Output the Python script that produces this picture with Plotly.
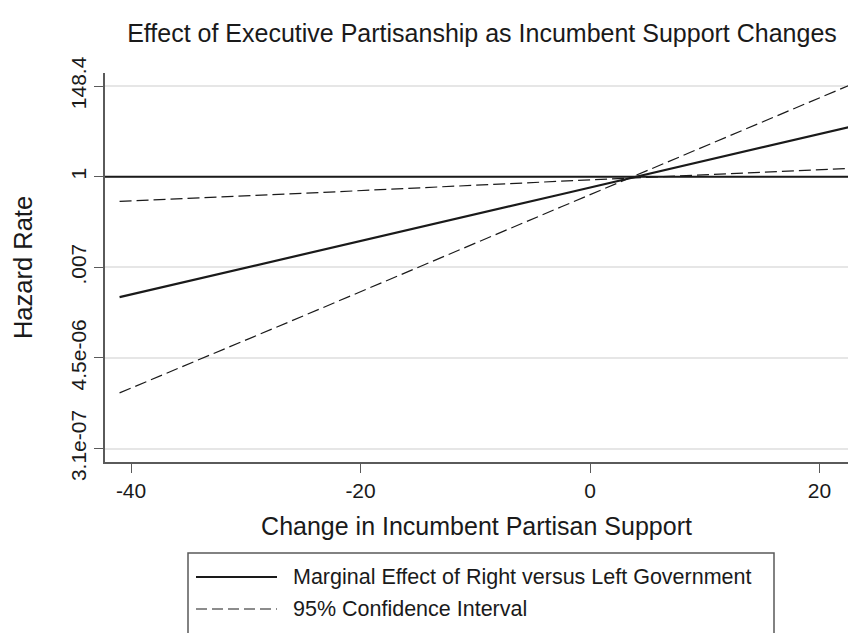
import math
import plotly.graph_objects as go

# Change in incumbent partisan support (percentage points)
support_change = [-41, -25, -2.5, 22.5]

# Hazard ratio of right vs. left government, with 95% bounds
marginal_effect = [0.0013, 0.0136, 0.38, 15.3]
ci_bound_flat = [0.257, 0.40, 0.78, 1.58]
ci_bound_steep = [6.6e-06, 4.6e-04, 0.19, 151]

# x-axis ticks
x_tick_vals = [-40, -20, 0, 20]
x_tick_text = ["-40", "-20", "0", "20"]

# y-axis ticks sit at exp(-15), exp(-10), exp(-5), exp(0), exp(5)
y_tick_logs = [-15, -10, -5, 0, 5]
y_tick_text = ["3.1e-07", "4.5e-06", ".007", "1", "148.4"]

legend_labels = ["Marginal Effect of Right versus Left Government",
                 "95% Confidence Interval"]

FONT = "Liberation Sans, Arial, sans-serif"
INK = "#1a1a1a"
AXIS = "#5a5a5a"

W, H = 848, 633
L, R, T, B = 105, 0, 73, 171


def px_x(p):
    return (p - L) / (W - L - R)


def px_y(p):
    return (H - B - p) / (H - T - B)


fig = go.Figure()

fig.add_trace(go.Scatter(
    x=support_change, y=marginal_effect, mode="lines",
    line=dict(color=INK, width=2.2), name=legend_labels[0], showlegend=False))
for bound in (ci_bound_flat, ci_bound_steep):
    fig.add_trace(go.Scatter(
        x=support_change, y=bound, mode="lines",
        line=dict(color=INK, width=1.2, dash="12px,5px"),
        name=legend_labels[1], showlegend=False))

# legend box (open at the bottom, where the page ends) and its key lines
bx0, bx1, by0, by1 = px_x(188), px_x(774), px_y(553), px_y(645)
box_path = f"M {bx0},{by1} L {bx0},{by0} L {bx1},{by0} L {bx1},{by1}"
shapes = [
    dict(type="path", xref="paper", yref="paper", path=box_path,
         line=dict(color=AXIS, width=1.5)),
    dict(type="line", xref="paper", yref="paper",
         x0=px_x(196), x1=px_x(277), y0=px_y(577), y1=px_y(577),
         line=dict(color=INK, width=2.2)),
    dict(type="line", xref="paper", yref="paper",
         x0=px_x(196), x1=px_x(277), y0=px_y(609), y1=px_y(609),
         line=dict(color=INK, width=1.2, dash="11px,5px")),
]
annotations = [
    dict(xref="paper", yref="paper", x=px_x(291), y=px_y(y_px),
         xanchor="left", yanchor="middle", showarrow=False, text=t,
         font=dict(family=FONT, size=21.5, color=INK))
    for t, y_px in zip(legend_labels, (577, 609))
]

fig.update_layout(
    width=W, height=H,
    margin=dict(l=L, r=R, t=T, b=B, pad=0),
    paper_bgcolor="white", plot_bgcolor="white",
    font=dict(family=FONT, color=INK),
    title=dict(text="Effect of Executive Partisanship as Incumbent Support Changes",
               x=482 / W, xanchor="center", y=1 - 33 / H, yanchor="middle",
               font=dict(family=FONT, size=25, color=INK)),
    showlegend=False,
    shapes=shapes,
    annotations=annotations,
)

# reference line at a hazard ratio of 1
fig.add_hline(y=1, line=dict(color=INK, width=2), layer="above")

fig.update_xaxes(
    range=[-42.27, 22.48], tickvals=x_tick_vals, ticktext=x_tick_text,
    ticks="outside", ticklen=9, tickwidth=1.3, tickcolor=AXIS,
    showline=True, linecolor=AXIS, linewidth=1.5,
    showgrid=False, zeroline=False,
    tickfont=dict(family=FONT, size=21, color=INK),
    title=dict(text="Change in Incumbent Partisan Support",
               font=dict(family=FONT, size=25, color=INK), standoff=17),
)

fig.update_yaxes(
    type="log",
    range=[-15.74 / math.log(10), 5.72 / math.log(10)],
    tickvals=[math.exp(v) for v in y_tick_logs], ticktext=y_tick_text,
    tickangle=-90,
    ticks="outside", ticklen=9, tickwidth=1.3, tickcolor=AXIS,
    showline=True, linecolor=AXIS, linewidth=1.5,
    showgrid=True, gridcolor="#e6e6e6", gridwidth=2, zeroline=False,
    tickfont=dict(family=FONT, size=21, color=INK),
    title=dict(text="Hazard Rate",
               font=dict(family=FONT, size=25.5, color=INK), standoff=27),
)

fig.write_html("out.html")
